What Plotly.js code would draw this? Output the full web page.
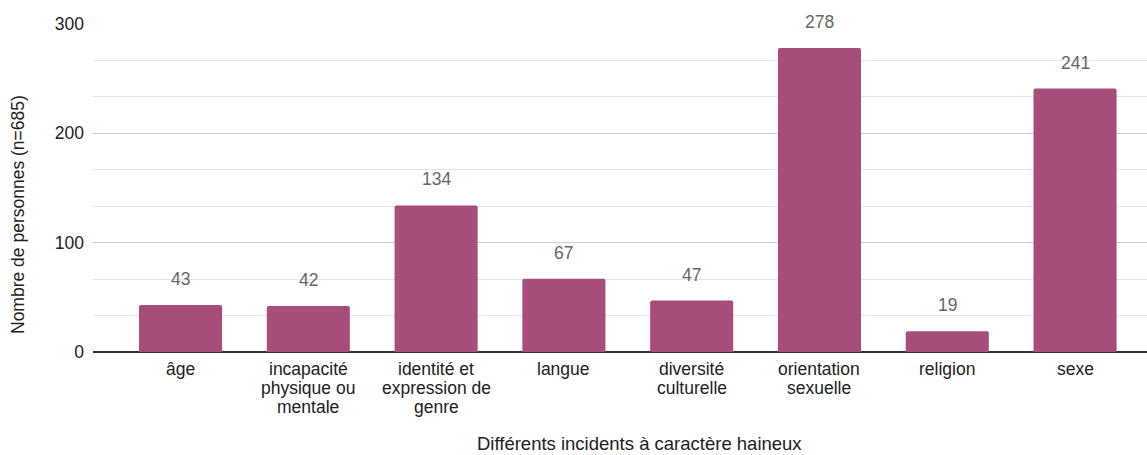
<!DOCTYPE html>
<html>
<head>
<meta charset="utf-8">
<script src="https://cdn.plot.ly/plotly-3.0.1.min.js"></script>
<style>
  html, body { margin: 0; padding: 0; background: #fff; }
  #chart { width: 1147px; height: 455px; }
</style>
</head>
<body>
<div id="chart"></div>
<script>
// Incidents à caractère haineux, nombre de personnes par catégorie
const categories = ['âge', 'incapacité physique ou mentale', 'identité et expression de genre', 'langue',
                    'diversité culturelle', 'orientation sexuelle', 'religion', 'sexe'];
const categoryLines = [
  ['âge'],
  ['incapacité', 'physique ou', 'mentale'],
  ['identité et', 'expression de', 'genre'],
  ['langue'],
  ['diversité', 'culturelle'],
  ['orientation', 'sexuelle'],
  ['religion'],
  ['sexe']
];
const counts = [43, 42, 134, 67, 47, 278, 19, 241];
const yTicks = [0, 100, 200, 300];

const FONT = 'Arial, "Liberation Sans", sans-serif';
const BAR_COLOR = '#a64d79';
const LINE_STEP = 19;

const annotations = [];

// value labels above each bar
categories.forEach((c, i) => {
  annotations.push({
    x: c, y: counts[i], xref: 'x', yref: 'y',
    text: String(counts[i]), showarrow: false,
    yanchor: 'middle', yshift: 26,
    font: { family: FONT, size: 17.5, color: '#666666' }
  });
});

// category labels, drawn line by line for a tight line spacing
categories.forEach((c, i) => {
  categoryLines[i].forEach((line, j) => {
    annotations.push({
      x: c, y: 0, xref: 'x', yref: 'paper',
      text: line, showarrow: false,
      yanchor: 'middle', yshift: -(17 + LINE_STEP * j),
      font: { family: FONT, size: 17.5, color: '#222222' }
    });
  });
});

// axis titles
annotations.push({
  x: (639 - 93) / 1054, y: -(443 - 352) / 328, xref: 'paper', yref: 'paper',
  text: 'Différents incidents à caractère haineux', showarrow: false,
  xanchor: 'center', yanchor: 'middle',
  font: { family: FONT, size: 18.5, color: '#222222' }
});
annotations.push({
  x: -(93 - 18) / 1054, y: (352 - 215) / 328, xref: 'paper', yref: 'paper',
  text: 'Nombre de personnes (n=685)', showarrow: false, textangle: -90,
  xanchor: 'center', yanchor: 'middle',
  font: { family: FONT, size: 17.5, color: '#222222' }
});

const trace = {
  type: 'bar',
  x: categories,
  y: counts,
  width: 0.65,
  marker: { color: BAR_COLOR, cornerradius: 2 },
  hoverinfo: 'x+y'
};

const layout = {
  width: 1147,
  height: 455,
  margin: { l: 93, r: 0, t: 24, b: 103 },
  paper_bgcolor: '#ffffff',
  plot_bgcolor: '#ffffff',
  showlegend: false,
  font: { family: FONT, size: 17, color: '#222222' },
  xaxis: {
    type: 'category',
    range: [-0.685, 7.563],
    showticklabels: false,
    showgrid: false,
    zeroline: false,
    showline: false,
    ticks: ''
  },
  yaxis: {
    range: [0, 300],
    tickvals: yTicks,
    ticktext: yTicks.map(String),
    ticks: '',
    ticklabelstandoff: 8,
    tickfont: { family: FONT, size: 17.5, color: '#222222' },
    showgrid: true,
    gridcolor: '#cccccc',
    gridwidth: 1,
    minor: { dtick: 100 / 3, showgrid: true, gridcolor: '#e4e4e4', gridwidth: 1, ticks: '' },
    zeroline: true,
    zerolinecolor: '#333333',
    zerolinewidth: 1.3,
    showline: false,
    fixedrange: true
  },
  annotations: annotations
};

Plotly.newPlot('chart', [trace], layout, { displayModeBar: false, staticPlot: true });
</script>
</body>
</html>
